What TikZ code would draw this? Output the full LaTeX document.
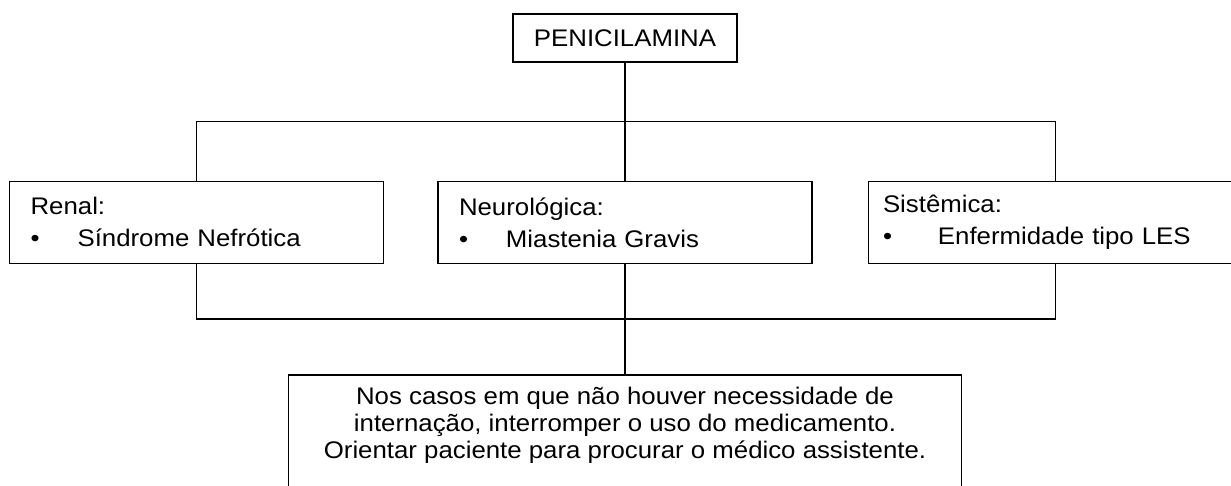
\documentclass[tikz,border=0pt]{standalone}
\usepackage{fontspec}
\setmainfont{Liberation Sans}[FakeStretch=1.075]
\usetikzlibrary{calc}
\newcommand{\bulletitem}[2][23.5pt]{\makebox[#1][l]{\textbullet}#2}

\begin{document}
\begin{tikzpicture}[x=0.5pt,y=-0.5pt,line width=0.7pt,
                    box/.style={draw,rectangle,fill=white,inner sep=0pt,font={\fontsize{12}{16}\selectfont}},
                    drug/.style={box,minimum width=112pt,minimum height=24pt},
                    effect/.style={box,align=left,text width=166pt,inner xsep=10.5pt,minimum height=41pt},
                    advice/.style={box,inner xsep=4pt,inner ysep=6.2pt}]
            \useasboundingbox (0,0) rectangle (1231,486);

            \node[drug] (penicilamina) at (625,38) {PENICILAMINA};

            \node[effect,anchor=north] (neurologica) at ($ (penicilamina.south) + (0,118) $) {
                Neurológica:\\
                \bulletitem{Miastenia Gravis}
            };

            \node[effect,anchor=east] (renal) at ($ (neurologica.west) + (-53,0) $) {
                Renal:\\
                \bulletitem{Síndrome Nefrótica}
            };

            \node[effect,anchor=west,text width=172.4pt,inner xsep=7.3pt] (sistemica) at ($ (neurologica.east) + (55,0) $) {
                Sistêmica:\\
                \bulletitem[27.5pt]{Enfermidade tipo LES}
            };

            \node[advice,anchor=north] (conduta) at ($ (neurologica.south) + (0,110) $) {
                \parbox[c][60pt][t]{328.5pt}{
                    \fontsize{12}{13.6}\selectfont\centering
                    Nos casos em que não houver necessidade de\\
                    internação, interromper o uso do medicamento.\\
                    Orientar paciente para procurar o médico assistente.\par
                }
            };

            \coordinate (upbus) at ($ (penicilamina.south) + (0,59) $);
            \coordinate (lowbus) at ($ (neurologica.south) + (0,55) $);

            \draw (penicilamina.south) -- (neurologica.north);
            \draw (renal.north) |- (upbus) -| (sistemica.north);
            \draw (renal.south) |- (lowbus) -| (sistemica.south);
            \draw (neurologica.south) -- (conduta.north);
        \end{tikzpicture}
\end{document}
